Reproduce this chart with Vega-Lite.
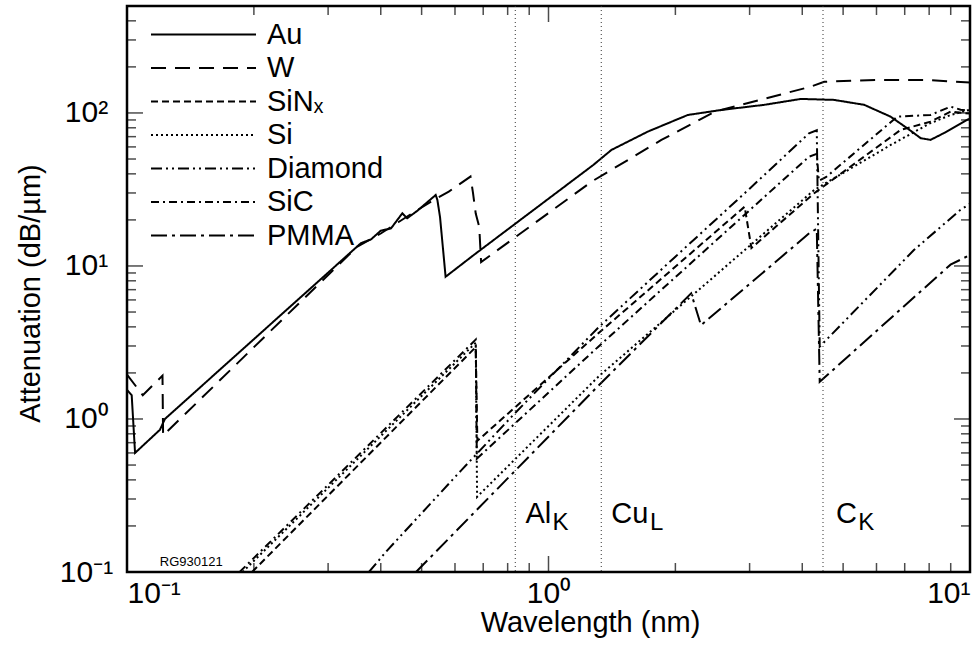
{
  "$schema": "https://vega.github.io/schema/vega-lite/v6.json",
  "width": 843,
  "height": 566,
  "autosize": {"type": "none"},
  "padding": {"left": 127, "top": 6, "right": 2, "bottom": 87},
  "background": "white",
  "config": {
    "view": {"stroke": "black", "strokeWidth": 2.5},
    "font": "Liberation Sans",
    "axis": {"grid": false, "labelColor": "black", "titleColor": "black"}
  },
  "datasets": {
    "curves": [
      {"m":"Au","i":0,"l":0.1,"a":1.55},{"m":"Au","i":1,"l":0.1026,"a":1.43},{"m":"Au","i":2,"l":0.1045,"a":0.6},{"m":"Au","i":3,"l":0.1197,"a":0.85},{"m":"Au","i":4,"l":0.123,"a":1.0},{"m":"Au","i":5,"l":0.359,"a":14.1},{"m":"Au","i":6,"l":0.379,"a":14.9},{"m":"Au","i":7,"l":0.4,"a":17.0},{"m":"Au","i":8,"l":0.423,"a":17.6},{"m":"Au","i":9,"l":0.45,"a":22.1},{"m":"Au","i":10,"l":0.462,"a":20.5},{"m":"Au","i":11,"l":0.489,"a":23.0},{"m":"Au","i":12,"l":0.54,"a":29.1},{"m":"Au","i":13,"l":0.545,"a":27.0},{"m":"Au","i":14,"l":0.553,"a":20.8},{"m":"Au","i":15,"l":0.57,"a":8.5},{"m":"Au","i":16,"l":0.665,"a":11.8},{"m":"Au","i":17,"l":1.277,"a":45.7},{"m":"Au","i":18,"l":1.41,"a":57.3},{"m":"Au","i":19,"l":1.72,"a":75.5},{"m":"Au","i":20,"l":2.14,"a":97},{"m":"Au","i":21,"l":2.57,"a":104.6},{"m":"Au","i":22,"l":3.25,"a":113},{"m":"Au","i":23,"l":3.97,"a":123.5},{"m":"Au","i":24,"l":4.76,"a":121.7},{"m":"Au","i":25,"l":5.61,"a":113},{"m":"Au","i":26,"l":6.48,"a":94.6},{"m":"Au","i":27,"l":7.1,"a":79.4},{"m":"Au","i":28,"l":7.64,"a":68.4},{"m":"Au","i":29,"l":8.06,"a":66.7},{"m":"Au","i":30,"l":8.66,"a":73.7},{"m":"Au","i":31,"l":9.84,"a":90},{"m":"Au","i":32,"l":10,"a":92},
      {"m":"W","i":0,"l":0.1,"a":1.95},{"m":"W","i":1,"l":0.109,"a":1.43},{"m":"W","i":2,"l":0.1214,"a":1.92},{"m":"W","i":3,"l":0.1218,"a":0.78},{"m":"W","i":4,"l":0.352,"a":13.4},{"m":"W","i":5,"l":0.4,"a":16.3},{"m":"W","i":6,"l":0.44,"a":19.3},{"m":"W","i":7,"l":0.48,"a":22.5},{"m":"W","i":8,"l":0.54,"a":27.5},{"m":"W","i":9,"l":0.58,"a":30.6},{"m":"W","i":10,"l":0.653,"a":38.4},{"m":"W","i":11,"l":0.662,"a":30},{"m":"W","i":12,"l":0.672,"a":22},{"m":"W","i":13,"l":0.685,"a":18},{"m":"W","i":14,"l":0.692,"a":10.6},{"m":"W","i":15,"l":1.266,"a":35.6},{"m":"W","i":16,"l":1.853,"a":66.6},{"m":"W","i":17,"l":2.48,"a":102},{"m":"W","i":18,"l":4.19,"a":148.5},{"m":"W","i":19,"l":4.51,"a":160},{"m":"W","i":20,"l":6.14,"a":164.4},{"m":"W","i":21,"l":8.0,"a":164},{"m":"W","i":22,"l":10,"a":158},
      {"m":"SiNₓ","i":0,"l":0.198,"a":0.1},{"m":"SiNₓ","i":1,"l":0.672,"a":2.95},{"m":"SiNₓ","i":2,"l":0.678,"a":0.72},{"m":"SiNₓ","i":3,"l":1.313,"a":3.63},{"m":"SiNₓ","i":4,"l":2.92,"a":24.4},{"m":"SiNₓ","i":5,"l":3.03,"a":13.1},{"m":"SiNₓ","i":6,"l":4.27,"a":29.9},{"m":"SiNₓ","i":7,"l":6.84,"a":77.4},{"m":"SiNₓ","i":8,"l":8.06,"a":87.7},{"m":"SiNₓ","i":9,"l":8.99,"a":102},{"m":"SiNₓ","i":10,"l":10,"a":99},
      {"m":"Si","i":0,"l":0.188,"a":0.1},{"m":"Si","i":1,"l":0.672,"a":3.15},{"m":"Si","i":2,"l":0.677,"a":0.31},{"m":"Si","i":3,"l":1.313,"a":1.89},{"m":"Si","i":4,"l":4.27,"a":31.4},{"m":"Si","i":5,"l":6.5,"a":62},{"m":"Si","i":6,"l":8,"a":85},{"m":"Si","i":7,"l":9,"a":97},{"m":"Si","i":8,"l":10,"a":105},
      {"m":"Diamond","i":0,"l":0.375,"a":0.1},{"m":"Diamond","i":1,"l":0.413,"a":0.137},{"m":"Diamond","i":2,"l":0.62,"a":0.46},{"m":"Diamond","i":3,"l":0.827,"a":1.07},{"m":"Diamond","i":4,"l":1.24,"a":3.37},{"m":"Diamond","i":5,"l":1.313,"a":3.96},{"m":"Diamond","i":6,"l":2.0,"a":11.5},{"m":"Diamond","i":7,"l":3.0,"a":32},{"m":"Diamond","i":8,"l":4.15,"a":73.6},{"m":"Diamond","i":9,"l":4.33,"a":77},{"m":"Diamond","i":10,"l":4.4,"a":2.97},{"m":"Diamond","i":11,"l":7.36,"a":12.7},{"m":"Diamond","i":12,"l":9.48,"a":23.2},{"m":"Diamond","i":13,"l":10,"a":25.5},
      {"m":"SiC","i":0,"l":0.185,"a":0.1},{"m":"SiC","i":1,"l":0.672,"a":3.3},{"m":"SiC","i":2,"l":0.676,"a":0.55},{"m":"SiC","i":3,"l":1.313,"a":2.97},{"m":"SiC","i":4,"l":4.15,"a":51.8},{"m":"SiC","i":5,"l":4.33,"a":54},{"m":"SiC","i":6,"l":4.38,"a":36},{"m":"SiC","i":7,"l":4.55,"a":38},{"m":"SiC","i":8,"l":6.72,"a":94.6},{"m":"SiC","i":9,"l":8.06,"a":97},{"m":"SiC","i":10,"l":8.99,"a":110},{"m":"SiC","i":11,"l":9.5,"a":105},{"m":"SiC","i":12,"l":10,"a":103},
      {"m":"PMMA","i":0,"l":0.485,"a":0.1},{"m":"PMMA","i":1,"l":1.313,"a":1.65},{"m":"PMMA","i":2,"l":2.18,"a":6.63},{"m":"PMMA","i":3,"l":2.3,"a":4.1},{"m":"PMMA","i":4,"l":4.16,"a":16.4},{"m":"PMMA","i":5,"l":4.33,"a":17.5},{"m":"PMMA","i":6,"l":4.4,"a":1.75},{"m":"PMMA","i":7,"l":8.99,"a":10.2},{"m":"PMMA","i":8,"l":10,"a":11.8}
    ],
    "refs": [{"l":0.834},{"l":1.334},{"l":4.48}],
    "labels": [
      {"t":"Al","l":0.882,"a":0.209,"r":"main"},{"t":"K","l":1.022,"a":0.188,"r":"sub"},
      {"t":"Cu","l":1.409,"a":0.209,"r":"main"},{"t":"L","l":1.742,"a":0.188,"r":"sub"},
      {"t":"C","l":4.81,"a":0.209,"r":"main"},{"t":"K","l":5.43,"a":0.188,"r":"sub"},
      {"t":"RG930121","l":0.1196,"a":0.11,"r":"note"}
    ],
    "xt": [
      {"v":0.2,"k":"minor"},{"v":0.3,"k":"minor"},{"v":0.4,"k":"minor"},{"v":0.5,"k":"minor"},{"v":0.6,"k":"minor"},{"v":0.7,"k":"minor"},{"v":0.8,"k":"minor"},{"v":0.9,"k":"minor"},
      {"v":1,"k":"major"},
      {"v":2,"k":"minor"},{"v":3,"k":"minor"},{"v":4,"k":"minor"},{"v":5,"k":"minor"},{"v":6,"k":"minor"},{"v":7,"k":"minor"},{"v":8,"k":"minor"},{"v":9,"k":"minor"}
    ],
    "yt": [
      {"v":0.2,"k":"minor"},{"v":0.3,"k":"minor"},{"v":0.4,"k":"minor"},{"v":0.5,"k":"minor"},{"v":0.6,"k":"minor"},{"v":0.7,"k":"minor"},{"v":0.8,"k":"minor"},{"v":0.9,"k":"minor"},
      {"v":1,"k":"major"},
      {"v":2,"k":"minor"},{"v":3,"k":"minor"},{"v":4,"k":"minor"},{"v":5,"k":"minor"},{"v":6,"k":"minor"},{"v":7,"k":"minor"},{"v":8,"k":"minor"},{"v":9,"k":"minor"},
      {"v":10,"k":"major"},
      {"v":20,"k":"minor"},{"v":30,"k":"minor"},{"v":40,"k":"minor"},{"v":50,"k":"minor"},{"v":60,"k":"minor"},{"v":70,"k":"minor"},{"v":80,"k":"minor"},{"v":90,"k":"minor"},
      {"v":100,"k":"major"},
      {"v":200,"k":"minor"},{"v":300,"k":"minor"},{"v":400,"k":"minor"}
    ]
  },
  "layer": [
    {
      "data": {"name": "curves"},
      "mark": {"type": "line", "color": "black", "strokeWidth": 2, "clip": true},
      "encoding": {
        "x": {"field": "l", "type": "quantitative",
          "scale": {"type": "log", "domain": [0.1, 10], "nice": false},
          "axis": {"orient": "bottom", "values": [0.1, 1, 10], "ticks": false, "tickSize": 0, "domain": false,
            "labelExpr": "datum.value < 0.5 ? '10⁻¹' : datum.value < 5 ? '10⁰' : '10¹'",
            "labelFontSize": 30, "labelFlush": true, "labelPadding": 6, "labelBaseline": "top",
            "title": "Wavelength (nm)", "titleFontSize": 29, "titleFontWeight": "normal",
            "titleX": 463, "titleY": 50, "titleBaseline": "middle", "titleAlign": "center"}},
        "y": {"field": "a", "type": "quantitative",
          "scale": {"type": "log", "domain": [0.1, 500], "nice": false},
          "axis": {"orient": "left", "values": [0.1, 1, 10, 100], "ticks": false, "tickSize": 0, "domain": false,
            "labelExpr": "datum.value < 0.5 ? '10⁻¹' : datum.value < 5 ? '10⁰' : datum.value < 50 ? '10¹' : '10²'",
            "labelFontSize": 30, "labelAlign": "center", "labelPadding": 41, "labelBaseline": "middle",
            "title": "Attenuation (dB/µm)", "titleFontSize": 29, "titleFontWeight": "normal",
            "titleX": -97, "titleY": 287, "titleAngle": -90, "titleBaseline": "middle", "titleAlign": "center"}},
        "strokeDash": {"field": "m", "type": "nominal",
          "scale": {"domain": ["Au", "W", "SiNₓ", "Si", "Diamond", "SiC", "PMMA"],
            "range": [[1, 0], [15, 9], [7, 4], [2, 3], [11, 4, 2, 4, 2, 4], [8, 4, 2, 4], [16, 5, 3, 5]]},
          "legend": {"orient": "none", "legendX": 23, "legendY": 15, "title": null,
            "symbolType": "stroke", "symbolSize": 11025, "symbolStrokeWidth": 2, "symbolStrokeColor": "black",
            "clipHeight": 27, "labelFontSize": 29, "labelOffset": 10, "rowPadding": 3.5, "labelColor": "black", "padding": 0}},
        "order": {"field": "i", "type": "quantitative"}
      }
    },
    {
      "data": {"name": "refs"},
      "mark": {"type": "rule", "color": "#333333", "strokeWidth": 1, "strokeDash": [1, 3]},
      "encoding": {"x": {"field": "l", "type": "quantitative", "axis": null}}
    },
    {
      "data": {"name": "xt"},
      "mark": {"type": "tick", "orient": "vertical", "clip": true, "color": "black", "thickness": 1.5},
      "encoding": {
        "x": {"field": "v", "type": "quantitative", "axis": null},
        "y": {"datum": 0.1, "type": "quantitative", "axis": null},
        "size": {"field": "k", "type": "nominal", "scale": {"domain": ["major", "minor"], "range": [32, 18]}, "legend": null}
      }
    },
    {
      "data": {"name": "xt"},
      "mark": {"type": "tick", "orient": "vertical", "clip": true, "color": "black", "thickness": 1.5},
      "encoding": {
        "x": {"field": "v", "type": "quantitative", "axis": null},
        "y": {"datum": 500, "type": "quantitative", "axis": null},
        "size": {"field": "k", "type": "nominal", "legend": null}
      }
    },
    {
      "data": {"name": "yt"},
      "mark": {"type": "tick", "orient": "horizontal", "clip": true, "color": "black", "thickness": 1.5},
      "encoding": {
        "y": {"field": "v", "type": "quantitative", "axis": null},
        "x": {"datum": 0.1, "type": "quantitative", "axis": null},
        "size": {"field": "k", "type": "nominal", "legend": null}
      }
    },
    {
      "data": {"name": "yt"},
      "mark": {"type": "tick", "orient": "horizontal", "clip": true, "color": "black", "thickness": 1.5},
      "encoding": {
        "y": {"field": "v", "type": "quantitative", "axis": null},
        "x": {"datum": 10, "type": "quantitative", "axis": null},
        "size": {"field": "k", "type": "nominal", "legend": null}
      }
    },
    {
      "data": {"name": "labels"},
      "transform": [{"filter": "datum.r == 'main'"}],
      "mark": {"type": "text", "fontSize": 29, "align": "left", "baseline": "alphabetic", "color": "black"},
      "encoding": {"x": {"field": "l", "type": "quantitative", "axis": null}, "y": {"field": "a", "type": "quantitative", "axis": null}, "text": {"field": "t"}}
    },
    {
      "data": {"name": "labels"},
      "transform": [{"filter": "datum.r == 'sub'"}],
      "mark": {"type": "text", "fontSize": 24, "align": "left", "baseline": "alphabetic", "color": "black"},
      "encoding": {"x": {"field": "l", "type": "quantitative", "axis": null}, "y": {"field": "a", "type": "quantitative", "axis": null}, "text": {"field": "t"}}
    },
    {
      "data": {"name": "labels"},
      "transform": [{"filter": "datum.r == 'note'"}],
      "mark": {"type": "text", "fontSize": 13, "align": "left", "baseline": "alphabetic", "color": "black"},
      "encoding": {"x": {"field": "l", "type": "quantitative", "axis": null}, "y": {"field": "a", "type": "quantitative", "axis": null}, "text": {"field": "t"}}
    }
  ],
  "resolve": {"axis": {"x": "independent", "y": "independent"}}
}
